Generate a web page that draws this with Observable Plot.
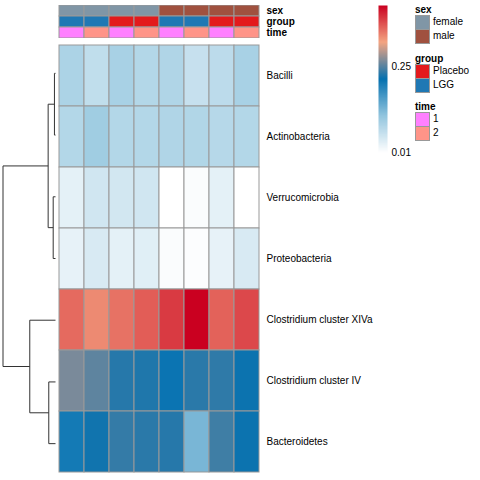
<!DOCTYPE html>
<html><head><meta charset="utf-8">
<script src="https://cdn.jsdelivr.net/npm/d3@7"></script>
<script src="https://cdn.jsdelivr.net/npm/@observablehq/plot@0.6"></script>
<style>
body{margin:0;background:#fff;font-family:"Liberation Sans",Arial,Helvetica,sans-serif;color:#000;}
#root{position:relative;width:480px;height:480px;overflow:hidden;background:#fff;}
#root > *{position:absolute;}
.lt{font-weight:bold;font-size:10px;line-height:12px;}
.sw{width:13px;height:13px;border:1px solid #999;box-sizing:content-box;}
.ll{font-size:10px;line-height:12px;}
</style></head><body><div id="root"></div>
<script>
// ---- data ----
const samples = ["S1","S2","S3","S4","S5","S6","S7","S8"];
const taxa = ["Bacilli","Actinobacteria","Verrucomicrobia","Proteobacteria",
  "Clostridium cluster XIVa","Clostridium cluster IV","Bacteroidetes"];
const bacilli        = [0.088,0.069,0.092,0.081,0.084,0.064,0.073,0.092];
const actinobacteria = [0.081,0.099,0.081,0.081,0.084,0.083,0.079,0.081];
const verrucomicrobia= [0.035,0.054,0.052,0.054,0.010,0.015,0.035,0.010];
const proteobacteria = [0.033,0.047,0.035,0.039,0.015,0.013,0.033,0.047];
const clostXIVa      = [0.354,0.334,0.349,0.362,0.384,0.420,0.359,0.375];
const clostIV        = [0.265,0.253,0.229,0.226,0.211,0.231,0.233,0.218];
const bacteroidetes  = [0.204,0.220,0.235,0.231,0.229,0.131,0.240,0.218];
const seriesValues = [bacilli,actinobacteria,verrucomicrobia,proteobacteria,clostXIVa,clostIV,bacteroidetes];

const sex   = ["female","female","female","female","male","male","male","male"];
const group = ["LGG","LGG","Placebo","Placebo","LGG","LGG","Placebo","Placebo"];
const time  = ["1","2","1","2","1","2","1","2"];
const annotationNames = ["sex","group","time"];

// row dendrogram (hclust style: negative = leaf index (1-based), positive = merge index)
const mergeA = [-1, -3, -6, 1, -5, 4];
const mergeB = [-2, -4, -7, 2, 3, 5];
const mergeHeight = [0.02, 0.044, 0.128, 0.14, 0.49, 1.0];

const legendTicks = [0.01, 0.25];
const valueMin = 0.01, valueMax = 0.42;

// ---- styles ----
const palette = ["#FFFFFF","#92C5DE","#0571B0","#F4A582","#CA0020"];
const annColors = {
  sex:   {female:"#8096A6", male:"#A0513F"},
  group: {Placebo:"#E31A1C", LGG:"#1F78B4"},
  time:  {"1":"#FF80FF", "2":"#FF9488"}
};
const font = '"Liberation Sans", Arial, Helvetica, sans-serif';
const colorDomain = palette.map((_, i) => valueMin + (valueMax - valueMin) * i / (palette.length - 1));
const colorOpts = {type:"linear", domain: colorDomain, range: palette, interpolate:"rgb"};

const root = document.getElementById("root");
function place(el, left, top){ el.style.left = left + "px"; el.style.top = top + "px"; root.appendChild(el); return el; }

// ---- heatmap ----
const cells = [];
taxa.forEach((t, i) => samples.forEach((s, j) => cells.push({taxon: t, sample: s, value: seriesValues[i][j]})));
const cellW = 207, cellH = 432;
const heat = Plot.plot({
  width: cellW + 130, height: cellH,
  marginLeft: 0, marginRight: 130, marginTop: 0, marginBottom: 0,
  style: {fontFamily: font, fontSize: "10px", color: "#000", background: "transparent"},
  x: {domain: samples, padding: 0, axis: null},
  y: {domain: taxa, padding: 0, axis: null},
  color: colorOpts,
  marks: [
    Plot.cell(cells, {x: "sample", y: "taxon", fill: "value", stroke: "#999", strokeWidth: 1}),
    Plot.axisY({anchor: "right", tickSize: 0, tickPadding: 4, fontSize: 10, label: null})
  ]
});
place(heat, 55, 42);

// ---- annotation bars ----
const annCells = [];
const annData = {sex, group, time};
annotationNames.forEach(a => samples.forEach((s, j) => annCells.push({ann: a, sample: s, level: annData[a][j]})));
const ann = Plot.plot({
  width: cellW + 60, height: 33,
  marginLeft: 0, marginRight: 60, marginTop: 0, marginBottom: 0,
  style: {fontFamily: font, fontSize: "10px", color: "#000", background: "transparent"},
  x: {domain: samples, padding: 0, axis: null},
  y: {domain: annotationNames, padding: 0, axis: null},
  color: {type: "identity"},
  marks: [
    Plot.cell(annCells, {x: "sample", y: "ann", fill: d => annColors[d.ann][d.level], stroke: "#999", strokeWidth: 1}),
    Plot.axisY({anchor: "right", tickSize: 0, tickPadding: 4, fontSize: 10, fontWeight: "bold", label: null})
  ]
});
place(ann, 55, 5);

// ---- dendrogram ----
const nodeY = [], nodeH = [];
function pos(k){ return k < 0 ? {y: -k - 1, h: 0} : {y: nodeY[k - 1], h: nodeH[k - 1]}; }
const segs = [];
mergeA.forEach((a, i) => {
  const pa = pos(a), pb = pos(mergeB[i]), h = mergeHeight[i];
  segs.push({x1: h, y1: pa.y, x2: h, y2: pb.y});
  segs.push({x1: pa.h, y1: pa.y, x2: h, y2: pa.y});
  segs.push({x1: pb.h, y1: pb.y, x2: h, y2: pb.y});
  nodeY.push((pa.y + pb.y) / 2); nodeH.push(h);
});
const dend = Plot.plot({
  width: 56, height: cellH, margin: 0,
  style: {background: "transparent"},
  x: {domain: [1, 0], range: [2.5, 55], axis: null},
  y: {domain: [-0.5, taxa.length - 0.5], range: [0, cellH], axis: null},
  marks: [Plot.link(segs, {x1: "x1", y1: "y1", x2: "x2", y2: "y2", stroke: "#333", strokeWidth: 1})]
});
place(dend, 0, 42);

// ---- colour bar ----
const bar = Plot.plot({
  width: 45, height: 160,
  marginLeft: 0, marginRight: 36, marginTop: 5, marginBottom: 8,
  style: {fontFamily: font, fontSize: "10px", color: "#000", background: "transparent"},
  x: {domain: [0, 1], axis: null},
  y: {domain: [valueMin, valueMax], axis: null},
  color: colorOpts,
  marks: [
    Plot.raster({x1: 0, x2: 1, y1: valueMin, y2: valueMax, width: 1, height: 200, fill: (x, y) => y, imageRendering: "auto"}),
    Plot.axisY({ticks: legendTicks, anchor: "right", tickSize: 0, tickPadding: 4, fontSize: 10, tickFormat: d => d.toFixed(2), label: null})
  ]
});
place(bar, 378, 0);

// ---- categorical legends ----
const legendSpec = [
  {title: "sex", levels: ["female", "male"], top: 4},
  {title: "group", levels: ["Placebo", "LGG"], top: 53},
  {title: "time", levels: ["1", "2"], top: 101}
];
legendSpec.forEach(L => {
  const t = document.createElement("div"); t.className = "lt"; t.textContent = L.title; place(t, 415, L.top);
  L.levels.forEach((lv, k) => {
    const sw = document.createElement("div"); sw.className = "sw"; sw.style.background = annColors[L.title][lv];
    place(sw, 415, L.top + 11 + k * 14);
    const lab = document.createElement("div"); lab.className = "ll"; lab.textContent = lv;
    place(lab, 433, L.top + 12 + k * 14);
  });
});
</script></body></html>
